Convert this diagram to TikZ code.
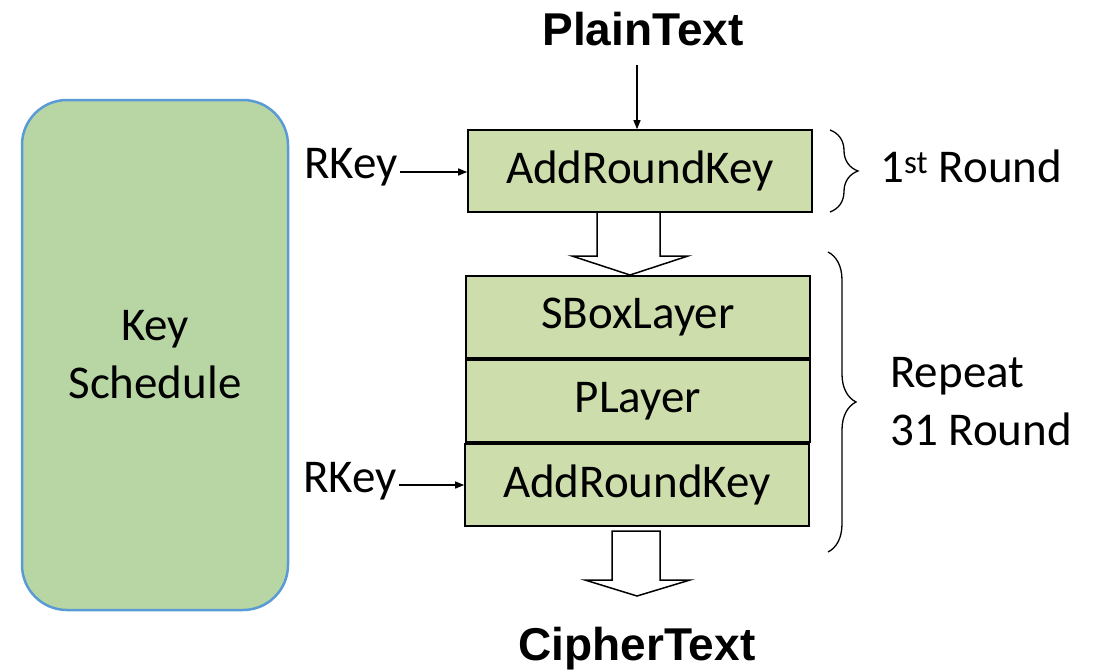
\documentclass[tikz,border=0pt]{standalone}
\usepackage{fontspec}
\setmainfont{Carlito}
\newfontfamily\titlefont{Liberation Sans}
\usetikzlibrary{arrows.meta}
\usetikzlibrary{decorations.pathreplacing}
\definecolor{layergreen}{RGB}{205,221,171}
\definecolor{keygreen}{RGB}{184,214,163}
\definecolor{keyblue}{RGB}{91,155,213}

\begin{document}
\begin{tikzpicture}[x=1pt, y=-1pt,
  layer/.style = {draw, line width=1.6pt, fill=layergreen, minimum width=344pt, minimum height=82pt, inner sep=0pt, font=\fontsize{47}{56}\selectfont},
  label/.style = {inner sep=0pt, font=\fontsize{47}{58}\selectfont},
  title/.style = {inner sep=0pt, font=\titlefont\bfseries\fontsize{46}{52}\selectfont},
  arr/.style = {line width=1.3pt, -{Triangle[length=9pt,width=7pt]}},
  hollow/.style = {draw, line width=1.5pt, fill=white, line join=miter},
  brace/.style = {draw, line width=1.3pt, decorate, decoration={brace, amplitude=28pt}}]
  \useasboundingbox (0,0) rectangle (1104,670);
  \node[draw=keyblue, line width=2.5pt, fill=keygreen, rounded corners=45pt, minimum width=266pt, minimum height=510pt, align=center, label] (ks) at (155,355) {Key\\Schedule};
  \node[title] (plain) at (643,29) {PlainText};
  \node[layer] (ark1) at (640,171) {AddRoundKey};
  \node[layer] (sbox) at (638,317) {SBoxLayer};
  \node[layer] (play) at (638,401) {PLayer};
  \node[layer] (ark2) at (637,485) {AddRoundKey};
  \node[title] (cipher) at (637,649) {CipherText};
  \node[label] (rk1) at (351,167) {RKey};
  \node[label] (rk2) at (350,481) {RKey};
  \node[label, anchor=west] (first) at (880,166) {1\textsuperscript{st} Round};
  \node[label, anchor=west, align=left] (rep) at (890,402) {Repeat\\31 Round};
  \coordinate (in) at (637,65);
  \draw[arr] (in) -- (ark1.north -| in);
  \draw[arr] (rk1.east) ++(2,5) -- (ark1.west |- 0,172);
  \draw[arr] (rk2.east) ++(2,4) -- (ark2.west |- 0,485);
  % block arrows
  \draw[hollow] (597,213) -- (597,256) -- (572,256) -- (630,275) -- (688,256) -- (660,256) -- (660,213);
  \draw[hollow] (612,531) -- (612,580) -- (585,580) -- (637,596) -- (690,580) -- (660,580) -- (660,531) -- cycle;
  % rounds
  \draw[brace] (830,130) -- (830,212);
  \draw[brace] (828,252) -- (828,552);
\end{tikzpicture}
\end{document}
